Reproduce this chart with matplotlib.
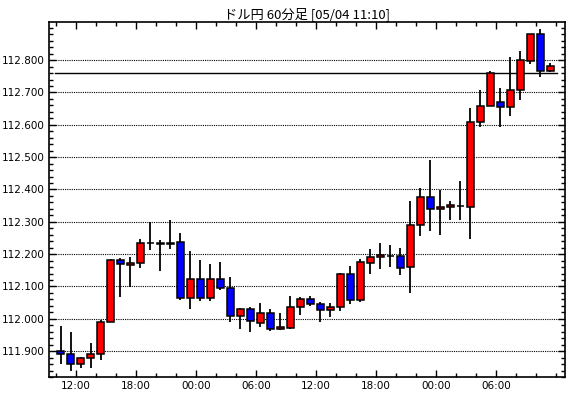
import matplotlib
matplotlib.use("Agg")
import matplotlib.pyplot as plt
from matplotlib.ticker import MultipleLocator, FixedLocator, FuncFormatter

# hourly candles, first one starts at 10:00
start_hour = 10
opens = [111.899, 111.892, 111.860, 111.878, 111.892, 111.990, 112.181, 112.167, 112.173, 112.235,
         112.235, 112.235, 112.238, 112.064, 112.123, 112.064, 112.123, 112.095, 112.008, 112.030,
         111.987, 112.018, 111.968, 111.973, 112.036, 112.061, 112.046, 112.027, 112.036, 112.139,
         112.058, 112.172, 112.191, 112.195, 112.194, 112.160, 112.290, 112.376, 112.339, 112.345,
         112.350, 112.345, 112.608, 112.658, 112.670, 112.655, 112.708, 112.797, 112.880, 112.766]
highs = [111.977, 111.958, 111.881, 111.926, 111.997, 112.184, 112.189, 112.192, 112.248, 112.300,
         112.245, 112.304, 112.264, 112.211, 112.183, 112.168, 112.177, 112.129, 112.033, 112.036,
         112.049, 112.030, 112.018, 112.071, 112.067, 112.071, 112.051, 112.049, 112.143, 112.164,
         112.185, 112.216, 112.235, 112.229, 112.220, 112.365, 112.405, 112.492, 112.398, 112.365,
         112.427, 112.653, 112.708, 112.767, 112.714, 112.810, 112.829, 112.880, 112.897, 112.792]
lows = [111.860, 111.840, 111.849, 111.849, 111.873, 111.990, 112.067, 112.099, 112.157, 112.214,
        112.148, 112.215, 112.058, 112.030, 112.054, 112.054, 112.088, 111.989, 111.967, 111.958,
        111.976, 111.961, 111.964, 111.968, 112.013, 112.040, 111.989, 112.004, 112.023, 112.045,
        112.051, 112.140, 112.153, 112.159, 112.134, 112.081, 112.255, 112.270, 112.258, 112.307,
        112.304, 112.248, 112.592, 112.658, 112.592, 112.626, 112.678, 112.787, 112.749, 112.763]
closes = [111.892, 111.860, 111.878, 111.892, 111.990, 112.181, 112.170, 112.173, 112.235, 112.235,
          112.232, 112.232, 112.064, 112.123, 112.064, 112.123, 112.095, 112.008, 112.030, 111.992,
          112.018, 111.968, 111.974, 112.036, 112.061, 112.046, 112.027, 112.036, 112.139, 112.058,
          112.176, 112.191, 112.196, 112.195, 112.157, 112.290, 112.376, 112.339, 112.345, 112.352,
          112.350, 112.608, 112.658, 112.760, 112.655, 112.708, 112.800, 112.880, 112.766, 112.781]
price_levels = [111.9, 112.0, 112.1, 112.2, 112.3, 112.4, 112.5, 112.6, 112.7, 112.8]
label_hours = [2, 8, 14, 20, 26, 32, 38, 44]   # hours after the first candle
current_price = 112.761
title = "ドル円 60分足 [05/04 11:10]"

fig = plt.figure(figsize=(5.7, 3.98), dpi=100)
ax = fig.add_axes([0.086, 0.0528, 0.905, 0.892])

xs = [i + 0.45 for i in range(len(opens))]
colors = []
for o, c in zip(opens, closes):
    if c > o:
        colors.append("#ff0000")
    elif c < o:
        colors.append("#0000ff")
    else:
        colors.append("black")

ax.vlines(xs, lows, highs, color="black", lw=1.3, zorder=2)
bottoms = [min(o, c) for o, c in zip(opens, closes)]
heights = [abs(c - o) for o, c in zip(opens, closes)]
ax.bar(xs, heights, bottom=bottoms, width=0.65, color=colors,
       edgecolor="black", linewidth=1.1, zorder=3)

ax.axhline(current_price, xmin=0.012, xmax=0.985, color="black", lw=1.0, zorder=1)

ax.set_xlim(-0.7, 50.9)
ax.set_ylim(111.820, 112.918)

ax.yaxis.set_major_locator(FixedLocator(price_levels))
ax.yaxis.set_minor_locator(MultipleLocator(0.02))
ax.yaxis.set_major_formatter(FuncFormatter(lambda v, p: "%.3f" % v))
ax.grid(axis="y", which="major", color="black", linestyle=(0, (1, 1)), lw=0.8)
ax.set_axisbelow(True)

ax.xaxis.set_major_locator(FixedLocator(label_hours))
ax.xaxis.set_minor_locator(MultipleLocator(2))
ax.xaxis.set_major_formatter(FuncFormatter(
    lambda v, p: "%02d:00" % ((start_hour + int(round(v))) % 24)))

ax.tick_params(which="both", direction="in", top=True, right=True, colors="black",
               labelsize=7.5, width=1)
ax.tick_params(which="major", length=5, pad=3)
ax.tick_params(which="minor", length=3)
for s in ax.spines.values():
    s.set_linewidth(1.2)

ax.set_title(title, fontsize=9.5, pad=3,
             family=["Noto Sans CJK JP", "DejaVu Sans"])

fig.savefig("out.png", dpi=100)
